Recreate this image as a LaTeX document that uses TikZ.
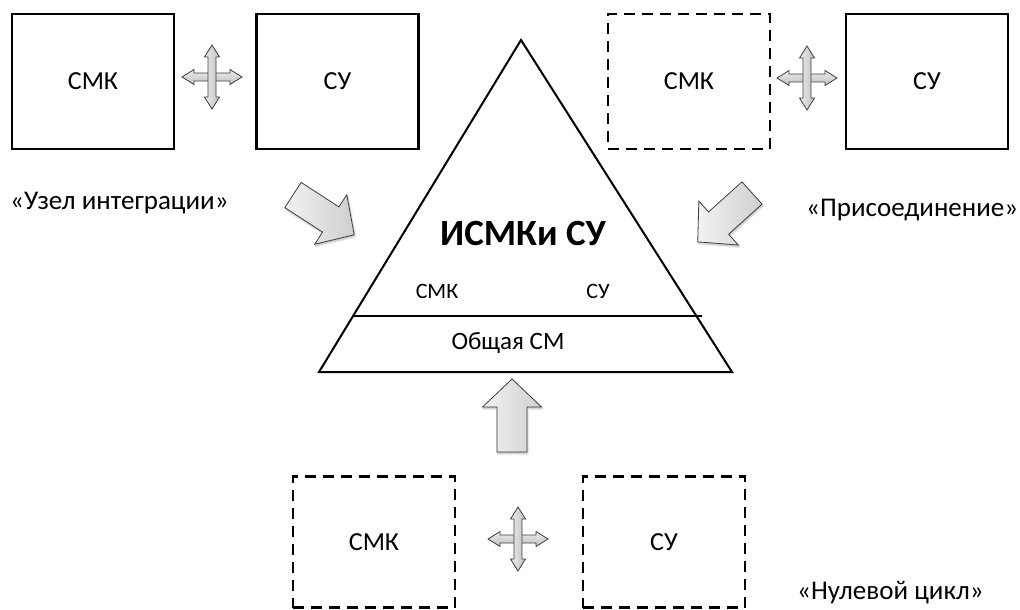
\documentclass[tikz,border=0pt]{standalone}
\usepackage{fontspec}
\setmainfont{Carlito}
\usetikzlibrary{shadows.blur}
\begin{document}
\begin{tikzpicture}[x=1pt,y=-1pt,
  box/.style={draw, line width=2.4pt, minimum width=162pt, minimum height=135pt,
    inner sep=0pt, font=\fontsize{26}{31}\selectfont},
  dbox/.style={box, dash pattern=on 11pt off 7pt},
  lowbox/.style={minimum height=131pt},
  caption/.style={font=\fontsize{27}{32}\selectfont, anchor=west, inner sep=0pt},
  inner/.style={font=\fontsize{22}{26}\selectfont, inner sep=0pt},
  pyr/.style={line width=2pt, line join=miter},
  barrow/.style={draw=black!75, line width=0.8pt, line join=miter,
    left color=gray!10, right color=gray!38,
    blur shadow={shadow xshift=0.8pt, shadow yshift=-1.6pt, shadow blur steps=6, shadow opacity=30}},
  xharrow/.style={draw=black!75, line width=0.8pt, line join=miter,
    top color=gray!15, bottom color=gray!50},
  xvarrow/.style={draw=black!75, line width=0.8pt, line join=miter,
    left color=gray!15, right color=gray!50},
  blockarrow/.pic={
    \draw[barrow] (0,-15) -- (45,-15) -- (45,-29.5) -- (73,0) -- (45,29.5)
      -- (45,15) -- (0,15) -- cycle;
  },
  crossarrow/.pic={
    \draw[xharrow] (30,0) -- (18,-7.5) -- (18,-4) -- (-18,-4) -- (-18,-7.5)
      -- (-30,0) -- (-18,7.5) -- (-18,4) -- (18,4) -- (18,7.5) -- cycle;
    \draw[xvarrow] (0,-32) -- (7.5,-20) -- (4,-20) -- (4,20) -- (7.5,20)
      -- (0,32) -- (-7.5,20) -- (-4,20) -- (-4,-20) -- (-7.5,-20) -- cycle;
  }
]
\useasboundingbox (0,0) rectangle (1020,610);

% upper left pair: integration node
\node[box] (smkA) at (93,81.5) {СМК};
\node[box] (suA) at (337.5,81.5) {СУ};
\pic at (212,77) {crossarrow};

% upper right pair: joining
\node[dbox] (smkB) at (689,81.5) {СМК};
\node[box] (suB) at (927,81.5) {СУ};
\pic at (807,78) {crossarrow};

% lower pair: zero cycle
\node[dbox, lowbox] (smkC) at (374,542) {СМК};
\node[dbox, lowbox] (suC) at (664,542) {СУ};
\pic at (518,539) {crossarrow};

% pyramid of the integrated system
\coordinate (apex) at (521,40);
\coordinate (bl) at (319,372);
\coordinate (br) at (732,372);
\coordinate (dl) at (353,316);
\coordinate (dr) at (702,316);
\draw[pyr] (apex) -- (bl) -- (br) -- cycle;
\draw[pyr] (dl) -- (dr);
\node[font=\bfseries\fontsize{37}{44}\selectfont, inner sep=0pt] (title) at (523,233) {ИСМКи СУ};
\node[inner] (smkT) at (437,291) {СМК};
\node[inner] (suT) at (598,291) {СУ};
\node[font=\fontsize{25}{30}\selectfont, inner sep=0pt] (base) at (508,343) {Общая СМ};

% block arrows towards the pyramid
\pic[rotate=-33] at (293,195) {blockarrow};
\pic[rotate=-138] at (752,193) {blockarrow};
\pic[rotate=90] at (512,452) {blockarrow};

% captions
\node[caption] (capA) at (10,203) {«Узел интеграции»};
\node[caption] (capB) at (806,210) {«Присоединение»};
\node[caption] (capC) at (797,593) {«Нулевой цикл»};
\end{tikzpicture}
\end{document}
